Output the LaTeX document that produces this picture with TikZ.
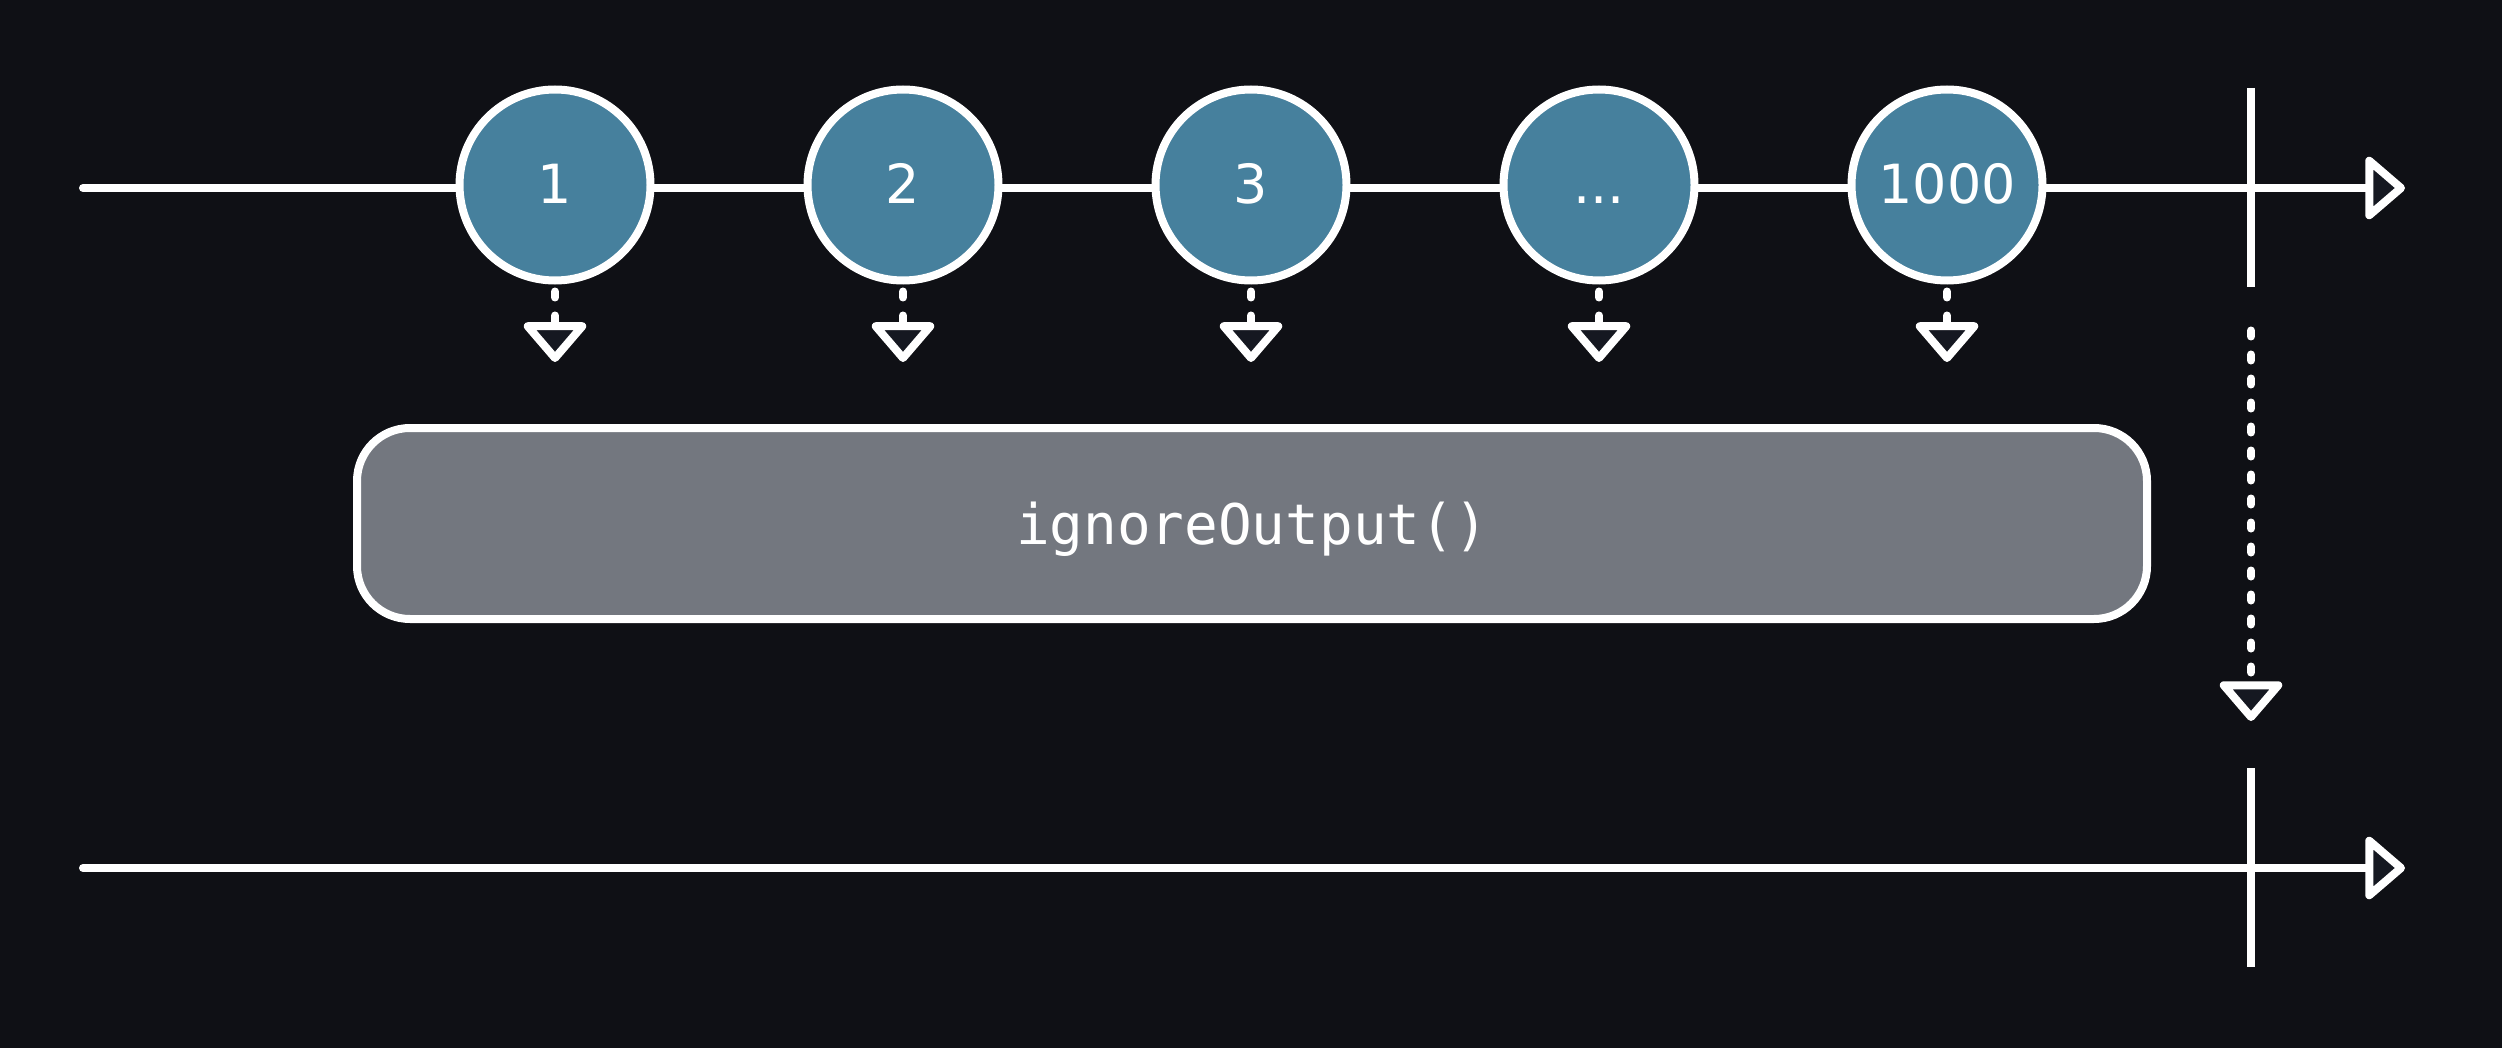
\documentclass[tikz,border=0pt]{standalone}
\usepackage{fontspec}
\setmainfont{DejaVu Sans}
\newfontfamily\codefont{DejaVu Sans Mono}
\usetikzlibrary{arrows.meta}
\definecolor{bgdark}{HTML}{0F1015}
\definecolor{eventblue}{HTML}{46809D}
\definecolor{opgray}{HTML}{73777F}
\definecolor{tipfill}{HTML}{151821}
\newcommand\evdots{...}
\begin{document}
\begin{tikzpicture}[x=1pt,y=-1pt,
  wire/.style={draw=white, line width=8pt},
  opentip/.style={-{Triangle[length=42pt,width=70pt,fill=tipfill,round]}},
  dashwire/.style={wire, line cap=round, dash pattern=on 6pt off 18pt},
  event/.style={circle, draw=white, line width=8pt, fill=eventblue,
    minimum size=191pt, inner sep=0pt, text=white,
    text height=38pt, text depth=0pt,
    font=\fontsize{54}{60}\selectfont},
  opbox/.style={draw=white, line width=8pt, fill=opgray, rounded corners=53pt,
    minimum width=1790pt, minimum height=191pt, text=white,
    text height=42pt, text depth=0pt,
    font=\codefont\fontsize{56}{64}\selectfont}]
  % canvas
  \fill[bgdark] (0,0) rectangle (2502,1048);
  \useasboundingbox (0,0) rectangle (2502,1048);

  % input timeline
  \coordinate (inStart) at (83,188);
  \coordinate (inEnd) at (2405,188);
  \draw[wire, line cap=round, opentip] (inStart) -- (inEnd);
  \coordinate (inDoneTop) at (2251,88);
  \coordinate (inDoneBot) at (2251,287);
  \draw[wire] (inDoneTop) -- (inDoneBot);

  % emitted values
  \foreach \i/\lbl in {1/1, 2/2, 3/3, 4/\evdots, 5/1000} {
    \node[event] (ev\i) at ({555+348*(\i-1)},185) {\lbl};
    \coordinate (evTip\i) at ({555+348*(\i-1)},362);
    \draw[dashwire, opentip] ([yshift=-7pt]ev\i.south) -- (evTip\i);
  }

  % operator
  \node[opbox] (op) at (1252,523.5) {ignoreOutput()};

  % completion passes through
  \coordinate (doneFrom) at (2251,330.5);
  \coordinate (doneTo) at (2251,721);
  \draw[dashwire, opentip] (doneFrom) -- (doneTo);

  % output timeline
  \coordinate (outStart) at (83,868);
  \coordinate (outEnd) at (2405,868);
  \draw[wire, line cap=round, opentip] (outStart) -- (outEnd);
  \coordinate (outDoneTop) at (2251,768);
  \coordinate (outDoneBot) at (2251,967);
  \draw[wire] (outDoneTop) -- (outDoneBot);
\end{tikzpicture}
\end{document}
